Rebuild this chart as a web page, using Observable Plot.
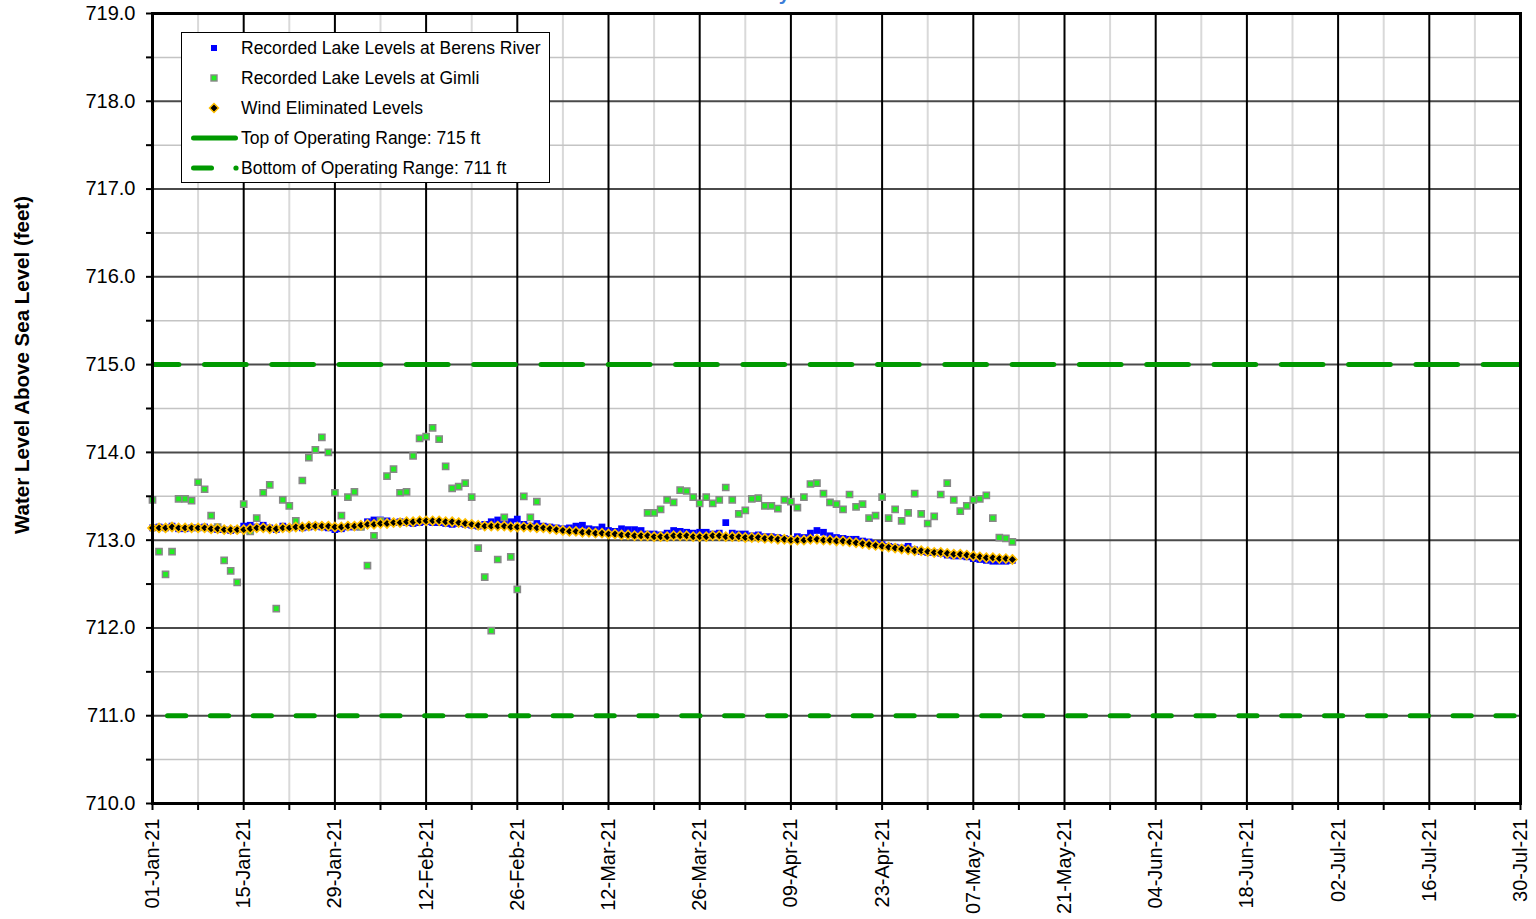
<!DOCTYPE html>
<html>
<head>
<meta charset="utf-8">
<script src="https://cdn.jsdelivr.net/npm/d3@7"></script>
<script src="https://cdn.jsdelivr.net/npm/@observablehq/plot@0.6"></script>
<style>
  html, body { margin: 0; padding: 0; background: #fff; overflow: hidden; }
  #wrap { position: relative; width: 1536px; height: 919px; overflow: hidden; font-family: "Liberation Sans", Arial, sans-serif; }
  #title { position: absolute; top: -18px; right: 746px; font: bold 20px "Liberation Sans", Arial, sans-serif; color: #3b7dd8; line-height: 23px; white-space: nowrap; }
  #ylabel { position: absolute; left: 22px; top: 365px; transform: translate(-50%, -50%) rotate(-90deg); font: bold 20.5px "Liberation Sans", Arial, sans-serif; white-space: nowrap; color: #000; }
  #legend { position: absolute; left: 181px; top: 32px; width: 367px; height: 149px; border: 1px solid #000; background: #fff; }
</style>
</head>
<body>
<div id="wrap">
  <div id="chart"></div>
  <div id="title">2021 Lake Level Summary</div>
  <div id="ylabel">Water Level Above Sea Level (feet)</div>
  <div id="legend"></div>
</div>
<script>
// ---------- Data ----------
const seriesNames = [
  "Recorded Lake Levels at Berens River",
  "Recorded Lake Levels at Gimli",
  "Wind Eliminated Levels",
  "Top of Operating Range: 715 ft",
  "Bottom of Operating Range: 711 ft"
];
const startDate = "2021-01-01";
const lastDataDate = "2021-05-13";
const endDate = "2021-07-30";
const topRange = 715;
const bottomRange = 711;
const yDomain = [710, 719];

// Daily values Jan 1 .. May 13, 2021
const berens = [
  713.14, 713.15, 713.14, 713.16, 713.13, 713.13, 713.14, 713.14, 713.15, 713.13,
  713.12, 713.12, 713.11, 713.12, 713.16, 713.17, 713.15, 713.17, 713.14, 713.12,
  713.16, 713.14, 713.16, 713.14, 713.15, 713.16, 713.15, 713.14, 713.12, 713.13, 713.15,
  713.15, 713.16, 713.21, 713.23, 713.23, 713.22, 713.20, 713.21, 713.20, 713.19, 713.20, 713.21, 713.20, 713.20,
  713.19, 713.18, 713.19, 713.18, 713.17, 713.16, 713.18, 713.21, 713.23, 713.22, 713.21, 713.24, 713.18, 713.16,
  713.19, 713.16, 713.15, 713.14, 713.13, 713.14, 713.16, 713.17, 713.13, 713.12, 713.15, 713.11, 713.10, 713.13, 713.12,
  713.12, 713.11, 713.07, 713.07, 713.06, 713.08, 713.11, 713.10, 713.09, 713.08, 713.09, 713.09, 713.07, 713.08, 713.20, 713.08,
  713.07, 713.07, 713.05, 713.06, 713.04, 713.04, 713.03, 713.02, 713.01, 713.04, 713.03, 713.08, 713.11, 713.09, 713.05,
  713.03, 713.02, 713.01, 713.01, 712.99, 712.98, 712.96, 712.95, 712.93, 712.92, 712.91, 712.93, 712.89, 712.87, 712.86,
  712.86, 712.85, 712.83, 712.82, 712.82, 712.81, 712.79, 712.78, 712.77, 712.76, 712.76, 712.76, 712.77
];
const gimli = [
  713.46, 712.87, 712.61, 712.87, 713.47, 713.47, 713.45, 713.66, 713.58, 713.28,
  713.15, 712.77, 712.65, 712.52, 713.41, 713.10, 713.25, 713.54, 713.63, 712.22,
  713.46, 713.39, 713.22, 713.68, 713.94, 714.03, 714.17, 714.00, 713.54, 713.28, 713.49,
  713.55, 713.15, 712.71, 713.05, 713.22, 713.73, 713.81, 713.54, 713.55, 713.96, 714.16, 714.18, 714.28, 714.15,
  713.84, 713.59, 713.61, 713.65, 713.49, 712.91, 712.58, 711.97, 712.78, 713.26, 712.81, 712.44, 713.50, 713.26,
  713.44, null, null, null, null, null, null, null, null, null, null, null, null, null, null,
  null, null, 713.31, 713.31, 713.35, 713.46, 713.43, 713.57, 713.56, 713.49, 713.42, 713.49, 713.42, 713.46, 713.60, 713.46,
  713.30, 713.34, 713.47, 713.48, 713.39, 713.39, 713.36, 713.46, 713.44, 713.37, 713.49, 713.64, 713.65, 713.53, 713.43,
  713.41, 713.35, 713.52, 713.38, 713.41, 713.25, 713.28, 713.49, 713.25, 713.35, 713.22, 713.31, 713.53, 713.30, 713.19,
  713.27, 713.52, 713.65, 713.46, 713.33, 713.39, 713.46, 713.47, 713.51, 713.25, 713.03, 713.02, 712.98
];
const windElim = [
  713.14, 713.14, 713.14, 713.15, 713.14, 713.14, 713.14, 713.14, 713.14, 713.13,
  713.13, 713.12, 713.12, 713.12, 713.12, 713.13, 713.14, 713.14, 713.13, 713.13,
  713.14, 713.14, 713.15, 713.15, 713.16, 713.16, 713.16, 713.16, 713.15, 713.15, 713.16,
  713.16, 713.17, 713.18, 713.18, 713.19, 713.19, 713.20, 713.20, 713.21, 713.21, 713.22, 713.22, 713.22, 713.22,
  713.21, 713.21, 713.20, 713.19, 713.18, 713.17, 713.16, 713.16, 713.16, 713.16, 713.15, 713.15, 713.15, 713.15,
  713.14, 713.14, 713.13, 713.12, 713.11, 713.10, 713.10, 713.09, 713.09, 713.08, 713.08, 713.07, 713.07, 713.06, 713.06,
  713.05, 713.05, 713.05, 713.04, 713.04, 713.04, 713.05, 713.05, 713.05, 713.04, 713.04, 713.04, 713.05, 713.05, 713.04, 713.04,
  713.04, 713.03, 713.03, 713.03, 713.02, 713.02, 713.01, 713.01, 713.00, 713.00, 713.00, 713.01, 713.01, 713.00, 713.00,
  712.99, 712.99, 712.98, 712.97, 712.96, 712.95, 712.94, 712.93, 712.92, 712.91, 712.90, 712.89, 712.88, 712.88, 712.87,
  712.86, 712.86, 712.85, 712.84, 712.84, 712.83, 712.82, 712.81, 712.80, 712.80, 712.79, 712.79, 712.78
];

// ---------- Build ----------
const parse = d3.utcParse("%Y-%m-%d");
const t0 = parse(startDate), tLast = parse(lastDataDate), tEnd = parse(endDate);
const dates = d3.utcDay.range(t0, d3.utcDay.offset(tLast, 1));
const weekTicks = d3.utcDay.range(t0, d3.utcDay.offset(tEnd, 1), 7);
const majorTicks = weekTicks.filter((d, i) => i % 2 === 0);
const minorTicks = weekTicks.filter((d, i) => i % 2 === 1);
const halfLevels = d3.range(yDomain[0] + 0.5, yDomain[1], 1);
const intLevels = d3.range(yDomain[0] + 1, yDomain[1], 1);
const yTicks = d3.range(yDomain[0], yDomain[1] + 0.001, 0.5);
const fmt = d3.utcFormat("%d-%b-%y");
const majorSet = new Set(majorTicks.map(d => +d));

const rows = (vals) => vals.map((v, i) => ({date: dates[i], value: v})).filter(d => d.value != null);

const colors = {berens: "#0000ff", gimli: "#22ee22", gimliStroke: "#888888", wind: "#000000", windStroke: "#ffbf00", range: "#009900"};

const chart = Plot.plot({
  width: 1536,
  height: 919,
  marginLeft: 152,
  marginRight: 16,
  marginTop: 13,
  marginBottom: 116,
  style: {fontFamily: "'Liberation Sans', Arial, sans-serif", fontSize: "20px", color: "#000", background: "#fff", overflow: "visible"},
  x: {type: "utc", domain: [t0, tEnd]},
  y: {domain: yDomain},
  marks: [
    Plot.ruleX(minorTicks, {stroke: "#d9d9d9", strokeWidth: 2}),
    Plot.ruleY(halfLevels, {stroke: "#c4c4c4", strokeWidth: 1.5}),
    Plot.ruleY(intLevels, {stroke: "#4a4a4a", strokeWidth: 2}),
    Plot.ruleX(majorTicks, {stroke: "#000", strokeWidth: 2}),
    Plot.ruleY([topRange], {stroke: colors.range, strokeWidth: 5, strokeDasharray: "41.7,25.6", strokeDashoffset: 14.8, strokeLinecap: "round", clip: true}),
    Plot.ruleY([bottomRange], {stroke: colors.range, strokeWidth: 5, strokeDasharray: "18.3,24.55", strokeDashoffset: 27.35, strokeLinecap: "round", clip: true}),
    Plot.dot(rows(berens), {x: "date", y: "value", symbol: "square", r: 3.8, fill: colors.berens, stroke: "none"}),
    Plot.dot(rows(gimli), {x: "date", y: "value", symbol: "square", r: 3.5, fill: colors.gimli, stroke: colors.gimliStroke, strokeWidth: 1.5}),
    Plot.dot(rows(windElim), {x: "date", y: "value", symbol: "diamond2", r: 4.1, fill: colors.wind, stroke: colors.windStroke, strokeWidth: 1.6}),
    Plot.frame({stroke: "#000", strokeWidth: 3}),
    Plot.axisY({ticks: yTicks, tickFormat: d => Number.isInteger(d) ? d.toFixed(1) : "", tickSize: 6, tickPadding: 11, strokeWidth: 2, label: null, fontSize: 20}),
    Plot.axisX({ticks: weekTicks, tickFormat: d => majorSet.has(+d) ? fmt(d) : "", tickRotate: -90, tickSize: 7, tickPadding: 8, strokeWidth: 2, label: null, fontSize: 20})
  ]
});
document.getElementById("chart").appendChild(chart);

// ---------- Legend ----------
const legend = d3.select("#legend");
const lsvg = legend.append("svg").attr("width", 367).attr("height", 149)
  .style("font-family", "'Liberation Sans', Arial, sans-serif").style("font-size", "17.5px");
const legendSym = [
  g => g.append("rect").attr("x", 32 - 3).attr("y", -3).attr("width", 6).attr("height", 6).attr("fill", colors.berens),
  g => g.append("rect").attr("x", 32 - 3).attr("y", -3).attr("width", 6).attr("height", 6).attr("fill", colors.gimli).attr("stroke", colors.gimliStroke).attr("stroke-width", 1.4),
  g => g.append("path").attr("d", "M32,-4.5L36.5,0L32,4.5L27.5,0Z").attr("fill", colors.wind).attr("stroke", colors.windStroke).attr("stroke-width", 1.5),
  g => g.append("line").attr("x1", 11.5).attr("x2", 53.5).attr("stroke", colors.range).attr("stroke-width", 5).attr("stroke-linecap", "round"),
  g => { g.append("line").attr("x1", 11.5).attr("x2", 29.5).attr("stroke", colors.range).attr("stroke-width", 5).attr("stroke-linecap", "round");
         g.append("circle").attr("cx", 54).attr("r", 2.6).attr("fill", colors.range); }
];
seriesNames.forEach((name, i) => {
  const g = lsvg.append("g").attr("transform", `translate(0,${15 + 30 * i})`);
  legendSym[i](g);
  g.append("text").attr("x", 59).attr("y", 0).attr("dy", "0.35em").attr("fill", "#000").text(name);
});
</script>
</body>
</html>
